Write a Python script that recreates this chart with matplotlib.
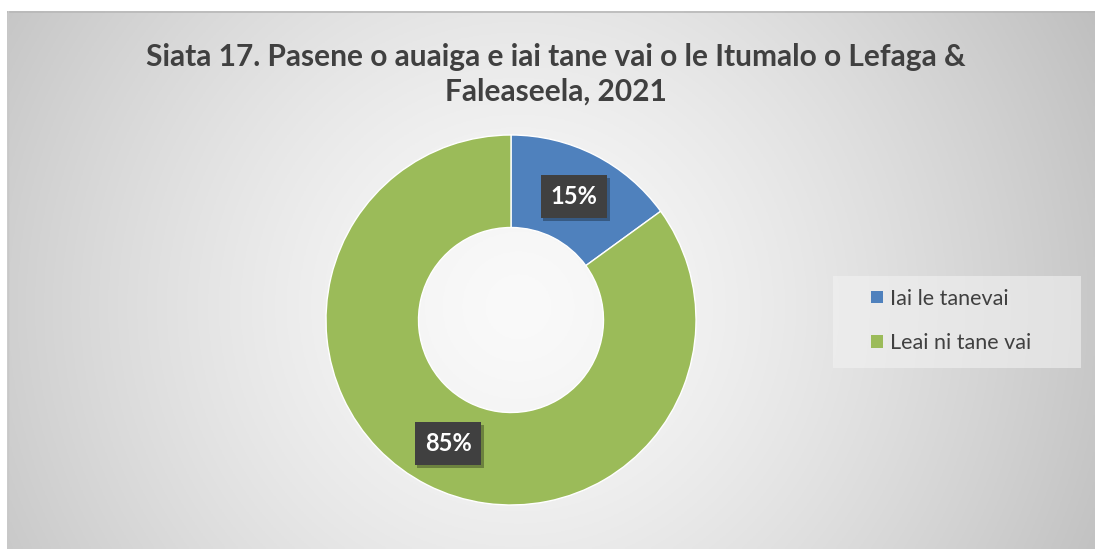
import numpy as np
import matplotlib
matplotlib.use("Agg")
import matplotlib.pyplot as plt
import matplotlib.patheffects as pe
from matplotlib.patches import Rectangle

title = "Siata 17. Pasene o auaiga e iai tane vai o le Itumalo o Lefaga &\nFaleaseela, 2021"
categories = ["Iai le tanevai", "Leai ni tane vai"]
values = [15, 85]
colors = ["#4f81bd", "#9bbb59"]

plt.rcParams['font.family'] = ['Lato', 'DejaVu Sans']
plt.rcParams['hatch.color'] = '#555555'
plt.rcParams['hatch.linewidth'] = 1.5

W, H = 1095, 549
fig = plt.figure(figsize=(W/100, H/100), dpi=100)
fig.patch.set_facecolor('white')

# radial gradient background
bx0, by0 = 7, 11
bg = fig.add_axes([bx0/W, 0, 1 - bx0/W, 1 - by0/H])
bg.set_axis_off()
nx, ny = 400, 200
xs = np.linspace(0, 1, nx)
ys = np.linspace(0, 1, ny)
X, Y = np.meshgrid(xs, ys)
cx, cy = 0.47, 0.55
d = np.sqrt(((X - cx) * 1.0) ** 2 + ((Y - cy) * 0.5) ** 2)
d = d / d.max()
g = 0.98 - 0.23 * np.clip(d, 0, 1) ** 1.4
img = np.dstack([g, g, g])
bg.imshow(img, extent=[0, 1, 0, 1], aspect='auto', origin='upper')
bg.set_xlim(0, 1); bg.set_ylim(0, 1)
bg.plot([0, 1], [0.998, 0.998], color='#b8b8b8', lw=1.2)
bg.plot([0.001, 0.001], [0, 1], color='#c8c8c8', lw=1.0)

# donut
cxp, cyp, r = 511, 320, 185
ax = fig.add_axes([(cxp - r)/W, (H - cyp - r)/H, 2*r/W, 2*r/H])
ax.set_axis_off()
wedges, texts, autotexts = ax.pie(values, colors=colors, startangle=90, counterclock=False,
                                   radius=1, wedgeprops=dict(width=0.5, edgecolor='white', linewidth=1),
                                   autopct='%1.0f%%', pctdistance=0.75)
ax.set_xlim(-1, 1); ax.set_ylim(-1, 1)
ax.set_aspect('equal')
for t in autotexts:
    t.set_color('white')
    t.set_fontweight('bold')
    t.set_fontsize(17)
    t.set_bbox(dict(boxstyle='square,pad=0.42', facecolor='#404040', edgecolor='none', hatch='..'))
    t.get_bbox_patch().set_path_effects([pe.withSimplePatchShadow(offset=(2, -2), shadow_rgbFace='black', alpha=0.3)])

# title
fig.text(556/W, 1 - 74/H, title, ha='center', va='center', fontsize=21.5, fontweight='bold',
         color='#404040', linespacing=1.3)

# legend
fig.patches.append(Rectangle((833/W, 1 - 368/H), (1081 - 833)/W, (368 - 276)/H,
                             transform=fig.transFigure, facecolor='#f2f2f2', alpha=0.6,
                             edgecolor='none', zorder=1))
leg = fig.legend(wedges, categories, loc='center left', bbox_to_anchor=(871/W, 1 - 321/H),
                 frameon=False, fontsize=15.5, handlelength=0.55, handleheight=0.55, handletextpad=0.35,
                 labelspacing=1.15, borderpad=0, borderaxespad=0, labelcolor='#404040')
for h in leg.legend_handles:
    h.set_edgecolor('none')
    h.set_linewidth(0)

fig.savefig('out.png', dpi=100)
